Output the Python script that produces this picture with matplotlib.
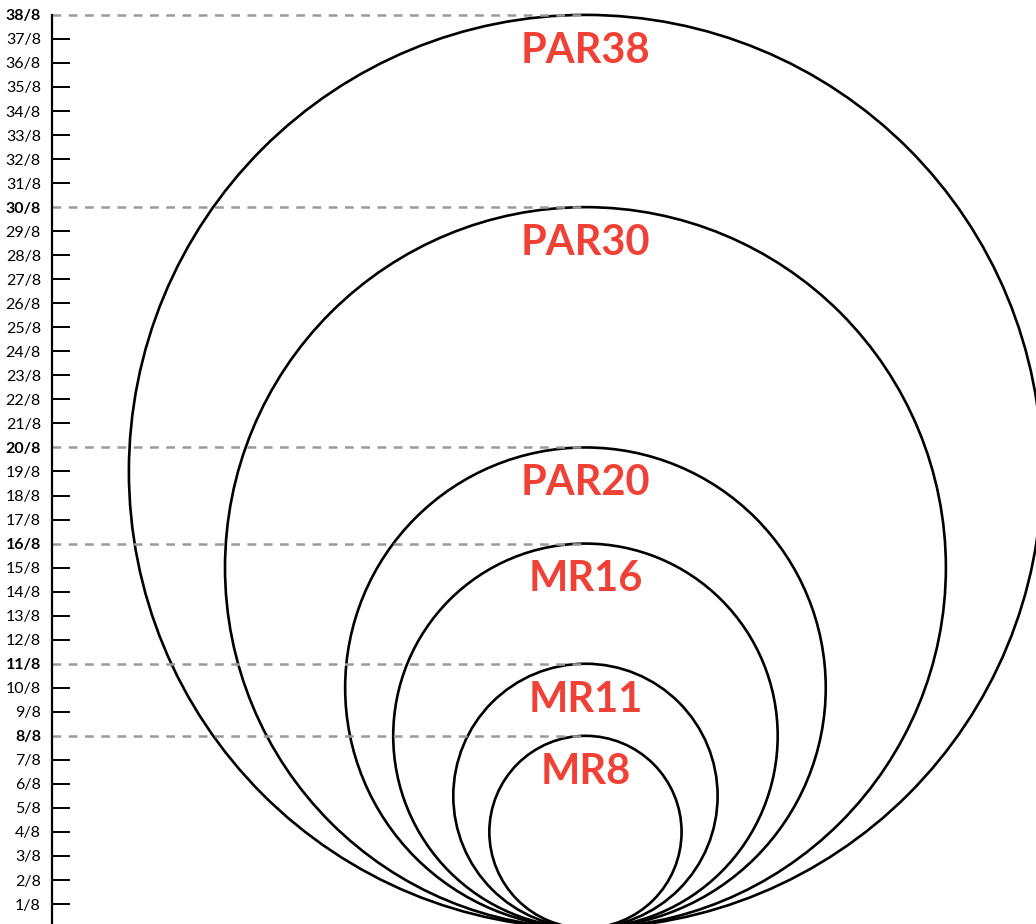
import numpy as np
import matplotlib.pyplot as plt
from matplotlib.patches import Circle

# bulb diameters in eighths of an inch
bulb_names = ["PAR38", "PAR30", "PAR20", "MR16", "MR11", "MR8"]
bulb_eighths = [38, 30, 20, 16, 11, 8]
tick_values = list(range(1, 39))

plt.rcParams['font.family'] = ['Lato', 'DejaVu Sans']

fig = plt.figure(figsize=(10.36, 9.24), dpi=100)
ax = fig.add_axes([52/1036, 0, 1 - 52/1036, 1])

center_x = 22.2
for name, d in zip(bulb_names, bulb_eighths):
    r = d / 2
    ax.add_patch(Circle((center_x, r), r, fill=False, edgecolor='black',
                        linewidth=1.9, clip_on=False))
    ax.plot([0, center_x], [d, d], color='#9a9a9a', linewidth=1.8,
            linestyle=(0, (3.5, 3)), clip_on=False)
    ax.text(center_x, d - 0.7, name, ha='center', va='top', color='#ef4136',
            fontsize=30, fontweight='bold')

ax.set_xlim(0, 40.95)
ax.set_ylim(0.17, 38.62)
ax.set_aspect('equal', adjustable='datalim')

ax.set_yticks(tick_values)
ax.set_yticklabels([f"{v}/8" for v in tick_values])
ax.tick_params(axis='y', direction='in', length=13, width=1.4, pad=8,
               labelsize=11.5, colors='black')
for v, lab, t in zip(tick_values, ax.get_yticklabels(), ax.yaxis.get_major_ticks()):
    if v in bulb_eighths:
        lab.set_fontweight('bold')
        t.tick1line.set_visible(False)

ax.set_xticks([])
for s in ['top', 'right', 'bottom']:
    ax.spines[s].set_visible(False)
ax.spines['left'].set_linewidth(1.6)
ax.spines['left'].set_bounds(0, 38)

fig.savefig('out.png', dpi=100)
